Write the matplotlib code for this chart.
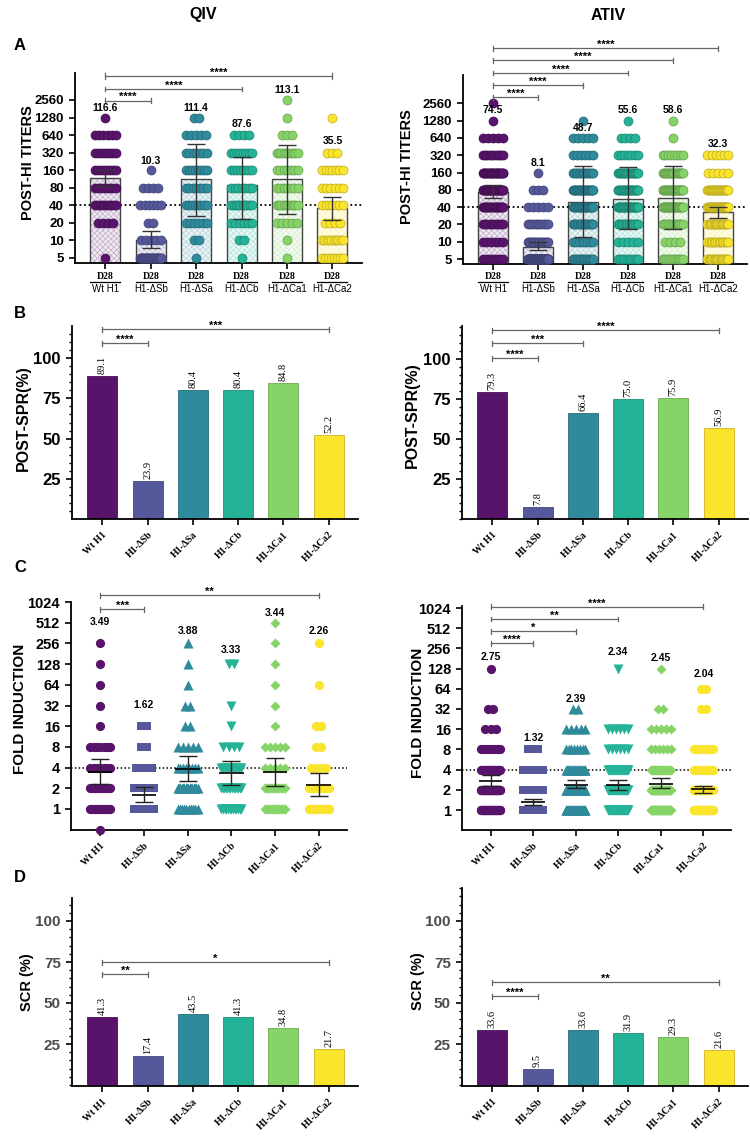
import numpy as np
import matplotlib
matplotlib.use('Agg')
import matplotlib.pyplot as plt
import matplotlib.colors as mcolors
from matplotlib.ticker import FixedLocator, MultipleLocator, NullFormatter, NullLocator

plt.rcParams['hatch.linewidth'] = 0.4

# ---------------- data ----------------
groups = ['Wt H1', 'H1-ΔSb', 'H1-ΔSa', 'H1-ΔCb', 'H1-ΔCa1', 'H1-ΔCa2']
colors = ['#58146a', '#55599b', '#2f8a9c', '#24b396', '#86d468', '#fbe52c']

titer_levels = [5, 10, 20, 40, 80, 160, 320, 640, 1280, 2560]
qiv_titer_counts = [
    [1, 0, 4, 10, 8, 8, 8, 6, 1, 0],
    [28, 5, 2, 6, 4, 1, 0, 0, 0, 0],
    [1, 2, 6, 8, 7, 8, 7, 5, 2, 0],
    [1, 2, 6, 10, 7, 8, 8, 4, 0, 0],
    [1, 1, 5, 10, 7, 7, 10, 3, 1, 1],
    [8, 10, 4, 7, 6, 7, 3, 0, 1, 0],
]
ativ_titer_counts = [
    [8, 6, 10, 20, 30, 25, 10, 5, 1, 1],
    [80, 17, 10, 5, 3, 1, 0, 0, 0, 0],
    [15, 8, 16, 25, 25, 15, 6, 5, 1, 0],
    [10, 5, 14, 30, 25, 20, 7, 4, 1, 0],
    [12, 4, 12, 30, 28, 20, 8, 1, 1, 0],
    [18, 14, 18, 30, 25, 5, 6, 0, 0, 0],
]
qiv_gmt = [116.6, 10.3, 111.4, 87.6, 113.1, 35.5]
qiv_gmt_lo = [85, 7.4, 25.8, 23.3, 28.3, 22.6]
qiv_gmt_hi = [160, 14.3, 452, 274, 434, 54.5]
ativ_gmt = [74.5, 8.1, 48.7, 55.6, 58.6, 32.3]
ativ_gmt_lo = [58, 7.2, 11.9, 16.4, 16.4, 26]
ativ_gmt_hi = [97, 10, 210, 197, 210, 40]

qiv_spr = [89.1, 23.9, 80.4, 80.4, 84.8, 52.2]
ativ_spr = [79.3, 7.8, 66.4, 75.0, 75.9, 56.9]

fold_levels = [0.5, 1, 2, 4, 8, 16, 32, 64, 128, 256, 512]
qiv_fold_counts = [
    [1, 13, 13, 7, 7, 1, 1, 1, 1, 1, 0],
    [0, 24, 14, 4, 2, 2, 0, 0, 0, 0, 0],
    [0, 10, 16, 8, 5, 2, 2, 1, 1, 1, 0],
    [0, 13, 14, 11, 4, 1, 1, 0, 2, 0, 0],
    [0, 15, 15, 5, 5, 1, 1, 1, 1, 1, 1],
    [0, 20, 16, 4, 2, 2, 0, 1, 0, 1, 0],
]
ativ_fold_counts = [
    [0, 35, 42, 25, 8, 3, 2, 0, 1, 0, 0],
    [0, 80, 25, 8, 3, 0, 0, 0, 0, 0, 0],
    [0, 35, 42, 24, 8, 5, 2, 0, 0, 0, 0],
    [0, 39, 40, 24, 6, 6, 0, 0, 1, 0, 0],
    [0, 40, 42, 20, 6, 5, 2, 0, 1, 0, 0],
    [0, 45, 46, 15, 6, 0, 2, 2, 0, 0, 0],
]
qiv_gmfr = [3.49, 1.62, 3.88, 3.33, 3.44, 2.26]
qiv_gmfr_lo = [2.3, 1.26, 2.58, 2.26, 2.18, 1.56]
qiv_gmfr_hi = [5.4, 2.09, 5.96, 4.93, 5.5, 3.34]
ativ_gmfr = [2.75, 1.32, 2.39, 2.34, 2.45, 2.04]
ativ_gmfr_lo = [2.3, 1.19, 2.1, 1.98, 2.1, 1.81]
ativ_gmfr_hi = [3.3, 1.46, 2.8, 2.8, 2.96, 2.3]

qiv_scr = [41.3, 17.4, 43.5, 41.3, 34.8, 21.7]
ativ_scr = [33.6, 9.5, 33.6, 31.9, 29.3, 21.6]

fold_markers = ['o', 's', '^', 'v', 'D', 'o']
fold_msize = [44, 40, 52, 52, 26, 44]

# significance: (target group index, label)
sig_A_qiv = [(1, '****'), (3, '****'), (5, '****')]
sig_A_ativ = [(1, '****'), (2, '****'), (3, '****'), (4, '****'), (5, '****')]
sig_B_qiv = [(1, '****'), (5, '***')]
sig_B_ativ = [(1, '****'), (2, '***'), (5, '****')]
sig_C_qiv = [(1, '***'), (5, '**')]
sig_C_ativ = [(1, '****'), (2, '*'), (3, '**'), (5, '****')]
sig_D_qiv = [(1, '**'), (5, '*')]
sig_D_ativ = [(1, '****'), (5, '**')]

# ---------------- layout (pixels) ----------------
W, H = 750, 1136
SANS = 'Liberation Sans'
SERIF = 'Liberation Serif'
fig = plt.figure(figsize=(W / 100, H / 100), dpi=100)


def add_ax(l, t, r, b):
    return fig.add_axes([l / W, 1 - b / H, (r - l) / W, (b - t) / H])


def lin_lim(top, bot, v1, p1, v2, p2):
    s = (v1 - v2) / (p1 - p2)
    return v1 + (bot - p1) * s, v1 + (top - p1) * s


def log_lim(top, bot, v1, p1, v2, p2):
    a, b = lin_lim(top, bot, np.log2(v1), p1, np.log2(v2), p2)
    return 2 ** a, 2 ** b


def py2d(ax, py):
    return ax.transData.inverted().transform((0, H - py))[1]


def lighten(c, f):
    r = np.array(mcolors.to_rgb(c))
    return tuple(r + (1 - r) * f)


def darken(c, f):
    r = np.array(mcolors.to_rgb(c))
    return tuple(r * f)


def style_axes(ax):
    for s in ['top', 'right']:
        ax.spines[s].set_visible(False)
    for s in ['left', 'bottom']:
        ax.spines[s].set_linewidth(1.3)
    ax.tick_params(axis='both', which='major', direction='out', length=4.5, width=1.2)
    ax.tick_params(axis='both', which='minor', direction='out', length=2.5, width=1.0)
    ax.set_xticks(range(6))
    ax.set_xlim(-0.67, 5.65)


def brackets(ax, sigs, ys_px, fs=8):
    for (j, lab), yp in zip(sigs, ys_px):
        y = py2d(ax, yp)
        y1 = py2d(ax, yp - 2.5)
        y2 = py2d(ax, yp + 2.5)
        kw = dict(color='#666666', lw=0.9, clip_on=False, zorder=6)
        ax.plot([0, j], [y, y], **kw)
        ax.plot([0, 0], [y1, y2], **kw)
        ax.plot([j, j], [y1, y2], **kw)
        ax.text(j / 2, py2d(ax, yp - 0.5), lab, ha='center', va='baseline',
                fontsize=fs, fontweight='bold', family=SANS, clip_on=False)


def swarm(n, step, half):
    if n == 1:
        return np.array([0.0])
    w = min((n - 1) * step, 2 * half)
    return np.linspace(-w / 2, w / 2, n)


def ylabel(text, x, y, fs):
    fig.text(x / W, 1 - y / H, text, rotation=90, ha='center', va='center',
             fontsize=fs, fontweight='bold', family=SANS)


# ---------------- panel A ----------------
def panel_A(box, ref, counts, gmt, lo, hi, lab_px, sigs, sig_px, ylab_xy):
    ax = add_ax(*box)
    style_axes(ax)
    ax.set_yscale('log')
    ylo, yhi = log_lim(box[1], box[3], *ref)
    ax.set_ylim(ylo, yhi)
    ax.yaxis.set_major_locator(FixedLocator(titer_levels))
    ax.yaxis.set_major_formatter(matplotlib.ticker.FixedFormatter([str(v) for v in titer_levels]))
    ax.yaxis.set_minor_locator(NullLocator())
    x = np.arange(6)
    ax.bar(x, np.array(gmt) - ylo, bottom=ylo, width=0.66,
           color=[lighten(c, 0.9) for c in colors],
           edgecolor=[lighten(c, 0.6) for c in colors], hatch='xxxxxx', lw=0, zorder=1)
    ax.bar(x, np.array(gmt) - ylo, bottom=ylo, width=0.66, fill=False,
           edgecolor='#444444', lw=1.0, zorder=1.5)
    ax.axhline(40, color='k', ls=(0, (1, 1.5)), lw=1.3, zorder=2.5)
    for i in range(6):
        for lev, n in zip(titer_levels, counts[i]):
            if n == 0:
                continue
            xs = i + swarm(n, 0.11, 0.23)
            ax.scatter(xs, [lev] * n, s=42, color=colors[i],
                       edgecolor=darken(colors[i], 0.75), lw=0.5, zorder=3, clip_on=False)
    ax.errorbar(x, gmt, yerr=[np.array(gmt) - np.array(lo), np.array(hi) - np.array(gmt)],
                fmt='none', ecolor='#333333', elinewidth=1.0, capsize=6.5, capthick=1.0, zorder=4)
    for i, (v, yp) in enumerate(zip(gmt, lab_px)):
        ax.text(i, py2d(ax, yp), f'{v:.1f}', ha='center', va='center', fontsize=7.5,
                fontweight='bold', family=SANS, zorder=7)
    for t in ax.get_yticklabels():
        t.set_fontweight('bold'); t.set_fontsize(9.5); t.set_family(SANS)
    ax.set_xticklabels([])
    brackets(ax, sigs, sig_px)
    bl = matplotlib.transforms.blended_transform_factory(ax.transData, fig.transFigure)
    for i, g in enumerate(groups):
        ax.text(i, 1 - 276.5 / H, 'D28', transform=bl, ha='center', va='center',
                fontsize=7, fontweight='bold', family=SERIF)
        ax.plot([i - 0.33, i + 0.33], [1 - 282 / H] * 2, transform=bl, color='k',
                lw=0.9, clip_on=False)
        ax.text(i, 1 - 289.5 / H, g, transform=bl, ha='center', va='center',
                fontsize=7, family=SANS)
    ylabel('POST-HI TITERS', *ylab_xy, 10.5)
    return ax


panel_A((75, 73, 362, 263), (5, 258, 2560, 100), qiv_titer_counts, qiv_gmt, qiv_gmt_lo,
        qiv_gmt_hi, [108, 161, 108, 124, 90, 141], sig_A_qiv, [100.7, 89, 76], (28, 163))
panel_A((463, 75, 747, 264), (5, 259, 2560, 103.3), ativ_titer_counts, ativ_gmt, ativ_gmt_lo,
        ativ_gmt_hi, [110, 163, 128, 110, 110, 144], sig_A_ativ, [97, 85, 73, 60, 48], (407, 167))


# ---------------- panels B & D ----------------
def panel_bar(box, ref, vals, sigs, sig_px, ylab, ylab_xy, ylab_fs, tick_fs, tick_color):
    ax = add_ax(*box)
    style_axes(ax)
    ax.set_ylim(*lin_lim(box[1], box[3], *ref))
    ax.yaxis.set_major_locator(FixedLocator([25, 50, 75, 100]))
    ax.yaxis.set_minor_locator(MultipleLocator(5))
    x = np.arange(6)
    ax.bar(x, vals, width=0.66, color=colors,
           edgecolor=[darken(c, 0.8) for c in colors], lw=0.6, zorder=2)
    for i, v in enumerate(vals):
        ax.text(i, v + 1.2, f'{v:.1f}', rotation=90, ha='center', va='bottom',
                fontsize=7.5, family=SERIF, zorder=5)
    for t in ax.get_yticklabels():
        t.set_fontweight('bold'); t.set_fontsize(tick_fs); t.set_family(SANS); t.set_color(tick_color)
    ax.set_xticklabels(groups, rotation=45, ha='right', va='top', rotation_mode='anchor',
                       fontsize=7, fontweight='bold', family=SERIF)
    brackets(ax, sigs, sig_px)
    ylabel(ylab, *ylab_xy, ylab_fs)
    return ax


panel_bar((72, 326, 358, 519), (100, 358, 25, 479), qiv_spr, sig_B_qiv, [343, 329],
          'POST-SPR(%)', (23, 418), 11.5, 12, 'k')
panel_bar((462, 326, 748, 519), (100, 359, 25, 479), ativ_spr, sig_B_ativ, [358, 343, 330],
          'POST-SPR(%)', (412, 415), 11.5, 12, 'k')
panel_bar((72, 898, 358, 1086), (100, 921, 25, 1044), qiv_scr, sig_D_qiv, [974, 962],
          'SCR (%)', (27, 982), 10.5, 11, '#4d4d4d')
panel_bar((462, 888, 748, 1086), (100, 921, 25, 1044), ativ_scr, sig_D_ativ, [996, 982],
          'SCR (%)', (418, 981), 10.5, 11, '#4d4d4d')


# ---------------- panel C ----------------
def panel_C(box, ref, counts, gm, lo, hi, lab_px, sigs, sig_px, ylab_xy):
    ax = add_ax(*box)
    style_axes(ax)
    ax.set_yscale('log', base=2)
    ax.set_ylim(*log_lim(box[1], box[3], *ref))
    ticks = [1, 2, 4, 8, 16, 32, 64, 128, 256, 512, 1024]
    ax.yaxis.set_major_locator(FixedLocator(ticks))
    ax.yaxis.set_major_formatter(matplotlib.ticker.FixedFormatter([str(v) for v in ticks]))
    ax.yaxis.set_minor_locator(NullLocator())
    ax.axhline(4, color='k', ls=(0, (1, 1.5)), lw=1.1, zorder=2.5)
    for i in range(6):
        for lev, n in zip(fold_levels, counts[i]):
            if n == 0:
                continue
            xs = i + swarm(n, 0.12, 0.23)
            ax.scatter(xs, [lev] * n, s=fold_msize[i], marker=fold_markers[i],
                       color=colors[i], lw=0, zorder=3, clip_on=False)
    x = np.arange(6)
    ax.hlines(gm, x - 0.28, x + 0.28, color='k', lw=1.2, zorder=5)
    ax.errorbar(x, gm, yerr=[np.array(gm) - np.array(lo), np.array(hi) - np.array(gm)],
                fmt='none', ecolor='#222222', elinewidth=1.0, capsize=6.5, capthick=1.0, zorder=5)
    for i, (v, yp) in enumerate(zip(gm, lab_px)):
        ax.text(i, py2d(ax, yp), f'{v:.2f}', ha='center', va='center', fontsize=7.5,
                fontweight='bold', family=SANS, zorder=7)
    for t in ax.get_yticklabels():
        t.set_fontweight('bold'); t.set_fontsize(10.5); t.set_family(SANS)
    ax.set_xticklabels(groups, rotation=45, ha='right', va='top', rotation_mode='anchor',
                       fontsize=7, fontweight='bold', family=SERIF)
    brackets(ax, sigs, sig_px)
    ylabel('FOLD INDUCTION', *ylab_xy, 11)
    return ax


panel_C((71, 602, 347, 830), (1, 809, 1024, 602), qiv_fold_counts, qiv_gmfr, qiv_gmfr_lo,
        qiv_gmfr_hi, [622, 705, 631, 650, 613, 631], sig_C_qiv, [609, 595], (20, 709))
panel_C((462, 606, 731, 830), (1, 810, 1024, 608), ativ_fold_counts, ativ_gmfr, ativ_gmfr_lo,
        ativ_gmfr_hi, [657, 738, 699, 652, 658, 674], sig_C_ativ, [643, 631, 619, 607], (418, 713))

# ---------------- titles & letters ----------------
for txt, x in [('QIV', 203), ('ATIV', 608)]:
    fig.text(x / W, 1 - 15 / H, txt, ha='center', va='center', fontsize=11.5,
             fontweight='bold', family=SANS)
for txt, y in [('A', 45), ('B', 313), ('C', 567), ('D', 878)]:
    fig.text(20 / W, 1 - y / H, txt, ha='center', va='center', fontsize=12,
             fontweight='bold', family=SANS)

fig.savefig('out.png', dpi=100)
